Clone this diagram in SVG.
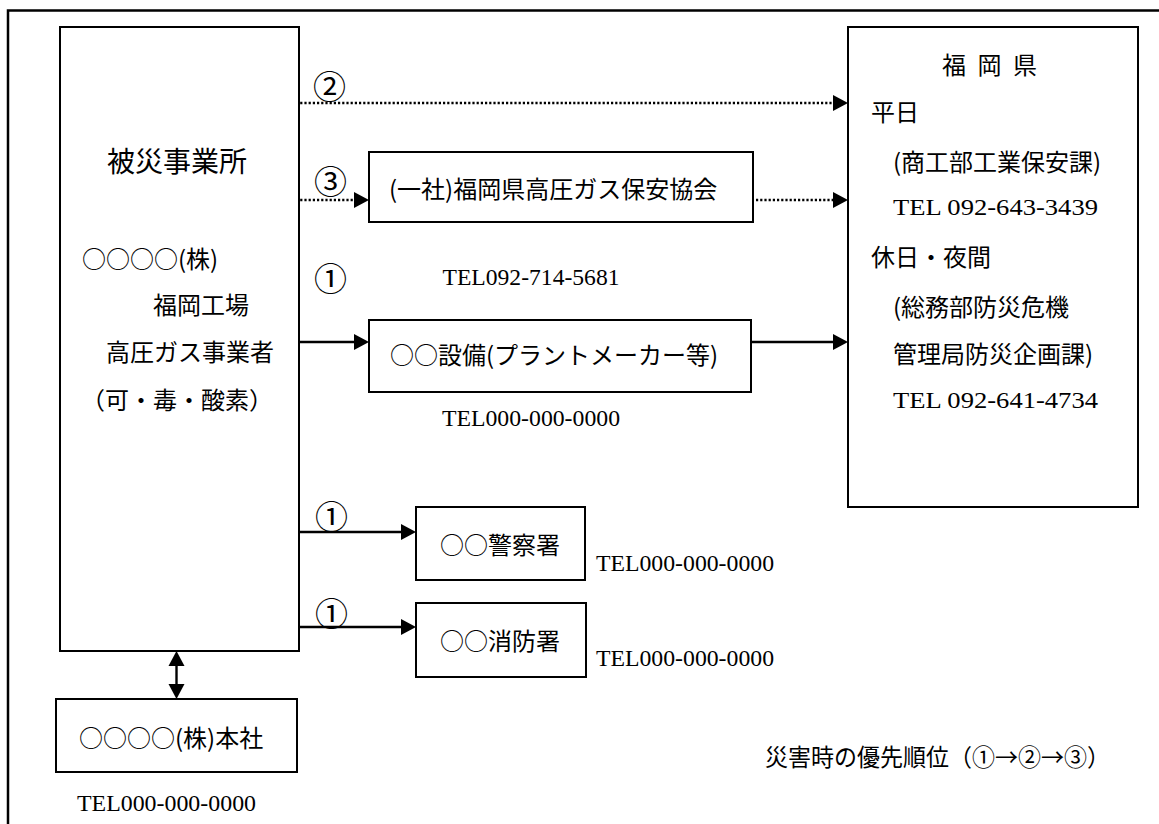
<svg xmlns="http://www.w3.org/2000/svg" width="1159" height="824" viewBox="0 0 1159 824">
<style>
.box{fill:#fff;stroke:#000;stroke-width:2}
.frame{fill:none;stroke:#000;stroke-width:2.5}
.line{fill:none;stroke:#000;stroke-width:2.4}
.dot{fill:none;stroke:#000;stroke-width:2.6;stroke-dasharray:2.2 2}
text{fill:#000;dominant-baseline:central}
.jp{font-family:"Noto Sans CJK JP","Liberation Serif",serif;font-size:24px}
.big{font-size:28px}
.num{font-family:"Noto Sans CJK JP","Liberation Serif",serif;font-size:33px}
.lat{font-family:"Liberation Serif","Noto Sans CJK JP",serif;font-size:24px}
.mono{font-family:"Liberation Serif","Noto Sans CJK JP",serif;font-size:24px}
</style>
<defs>
<marker id="ah" markerUnits="userSpaceOnUse" markerWidth="16" markerHeight="18" refX="4" refY="8" orient="auto" overflow="visible">
<path d="M0,0 L15,8 L0,16 Z" fill="#000" stroke="none"/>
</marker>
<marker id="ahs" markerUnits="userSpaceOnUse" markerWidth="16" markerHeight="18" refX="4" refY="8" orient="auto-start-reverse" overflow="visible">
<path d="M0,0 L15,8 L0,16 Z" fill="#000" stroke="none"/>
</marker>
</defs>
<rect x="0" y="0" width="1159" height="824" fill="#fff"/>
<path class="frame" d="M8,824 V10.5 H1159"/>

<g id="connectors">
<line class="dot" x1="296" y1="103" x2="837" y2="103" marker-end="url(#ah)"/>
<line class="dot" x1="296" y1="200" x2="358" y2="200" marker-end="url(#ah)"/>
<line class="dot" x1="756" y1="200" x2="837" y2="200" marker-end="url(#ah)"/>
<line class="line" x1="296" y1="342" x2="358" y2="342" marker-end="url(#ah)"/>
<line class="line" x1="751" y1="342" x2="837" y2="342" marker-end="url(#ah)"/>
<line class="line" x1="296" y1="532" x2="405" y2="532" marker-end="url(#ah)"/>
<line class="line" x1="296" y1="627" x2="405" y2="627" marker-end="url(#ah)"/>
<line class="line" x1="176.5" y1="662" x2="176.5" y2="688" marker-start="url(#ahs)" marker-end="url(#ahs)"/>
<text class="num" x="313" y="85">②</text>
<text class="num" x="314" y="180">③</text>
<text class="num" x="314" y="277">①</text>
<text class="num" x="315" y="515">①</text>
<text class="num" x="315" y="612">①</text>
</g>

<g id="hisai">
<rect class="box" x="60" y="27" width="239" height="624"/>
<text class="jp big" x="107" y="160">被災事業所</text>
<text class="jp" x="82" y="257">○○○○(株)</text>
<text class="jp" x="153" y="303">福岡工場</text>
<text class="jp" x="106" y="350">高圧ガス事業者</text>
<text class="jp" x="81" y="398">（可・毒・酸素）</text>
</g>

<g id="kyokai">
<rect class="box" x="369" y="152" width="384" height="70"/>
<text class="jp" x="389" y="187">(一社)福岡県高圧ガス保安協会</text>
<text class="mono" x="442.5" y="277" textLength="177" lengthAdjust="spacingAndGlyphs">TEL092-714-5681</text>
</g>

<g id="setsubi">
<rect class="box" x="369" y="320" width="382" height="72"/>
<text class="jp" x="390" y="353">○○設備(プラントメーカー等)</text>
<text class="mono" x="442" y="418" textLength="178" lengthAdjust="spacingAndGlyphs">TEL000-000-0000</text>
</g>

<g id="fukuokaken">
<rect class="box" x="848" y="27" width="290" height="480"/>
<text class="jp" x="942" y="63" textLength="95" lengthAdjust="spacing">福 岡 県</text>
<text class="jp" x="871" y="110">平日</text>
<text class="jp" x="893" y="160">(商工部工業保安課)</text>
<text class="lat" x="893" y="207" font-size="25" textLength="205" lengthAdjust="spacingAndGlyphs">TEL 092-643-3439</text>
<text class="jp" x="871" y="255">休日・夜間</text>
<text class="jp" x="893" y="305">(総務部防災危機</text>
<text class="jp" x="893" y="352">管理局防災企画課)</text>
<text class="lat" x="893" y="400" font-size="25" textLength="205" lengthAdjust="spacingAndGlyphs">TEL 092-641-4734</text>
</g>

<g id="keisatsu">
<rect class="box" x="416" y="507" width="169" height="73"/>
<text class="jp" x="440" y="543">○○警察署</text>
<text class="mono" x="596" y="563" textLength="178" lengthAdjust="spacingAndGlyphs">TEL000-000-0000</text>
</g>

<g id="shobo">
<rect class="box" x="416" y="603" width="170" height="74"/>
<text class="jp" x="440" y="639">○○消防署</text>
<text class="mono" x="596" y="658" textLength="178" lengthAdjust="spacingAndGlyphs">TEL000-000-0000</text>
</g>

<g id="honsha">
<rect class="box" x="56" y="699" width="241" height="73"/>
<text class="jp" x="79" y="736">○○○○(株)本社</text>
<text class="mono" x="77" y="803" textLength="179" lengthAdjust="spacingAndGlyphs">TEL000-000-0000</text>
</g>

<g id="note">
<text class="jp" x="765" y="755" textLength="345" lengthAdjust="spacingAndGlyphs">災害時の優先順位（①→②→③）</text>
</g>
</svg>
